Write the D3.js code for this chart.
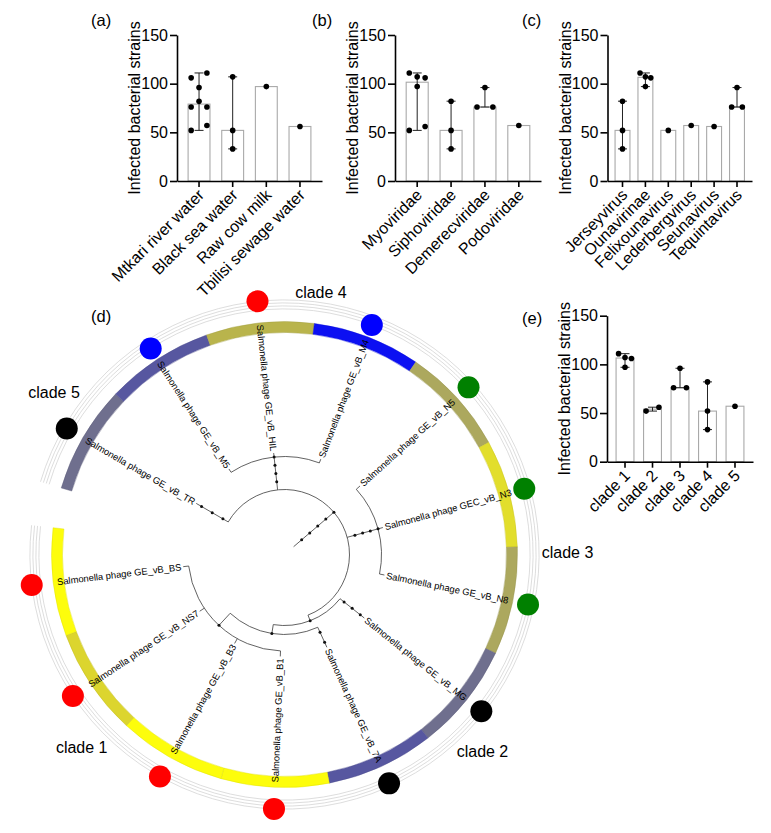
<!DOCTYPE html>
<html><head><meta charset="utf-8">
<script src="https://cdn.jsdelivr.net/npm/d3@7"></script>
<style>
body{margin:0;background:#fff}
svg{display:block}
text{font-family:"Liberation Sans",Arial,Helvetica,sans-serif;fill:#000}
</style>
</head><body>
<svg id="chart" width="771" height="833"></svg>
<script>
// ================= DATA =================
const yTicks = [0, 50, 100, 150];
const yLabel = "Infected bacterial strains";

const sourceCats = ["Mtkari river water", "Black sea water", "Raw cow milk", "Tbilisi sewage water"];
const sourceVals = [[106, 111, 96, 82, 76, 76, 52, 57], [107, 52, 33], [97], [56]];

const familyCats = ["Myoviridae", "Siphoviridae", "Demerecviridae", "Podoviridae"];
const familyVals = [[111, 107, 106, 97, 52, 56], [82, 52, 33], [96, 76, 76], [57]];

const genusCats = ["Jerseyvirus", "Ounavirinae", "Felixounavirus", "Lederbergvirus", "Seunavirus", "Tequintavirus"];
const genusVals = [[82, 52, 33], [111, 107, 106, 97], [52], [57], [56], [96, 76, 76]];

const cladeCats = ["clade 1", "clade 2", "clade 3", "clade 4", "clade 5"];
const cladeVals = [[111, 107, 106, 97], [52, 56], [96, 76, 76], [82, 52, 33], [57]];

const phageNames = [
  "Salmonella phage GE_vB_TR", "Salmonella phage GE_vB_M5", "Salmonella phage GE_vB_HIL",
  "Salmonella phage GE_vB_M4", "Salmonella phage GE_vB_N5", "Salmonella phage GEC_vB_N3",
  "Salmonella phage GE_vB_N8", "Salmonella phage GE_vB_MG", "Salmonella phage GE_vB_7A",
  "Salmonella phage GE_vB_B1", "Salmonella phage GE_vB_B3", "Salmonella phage GE_vB_NS7",
  "Salmonella phage GE_vB_BS"
];
// ring category for every leaf
const phageRing = ["slate", "indigo", "olive", "blue", "khaki", "lemon", "khaki", "slate", "indigo", "yellow", "yellow", "mustard", "yellow"];
// symbol dataset for every leaf
const phageMarker = ["black", "blue", "red", "blue", "green", "green", "green", "black", "black", "red", "red", "red", "red"];
// tree topology with branch lengths (len) and branch node marks (marks)
const treeSpec = {len: 0.53, marks: 5, children: [
  {leaf: 0, marks: 3},
  {len: 0.33, marks: 4, children: [{leaf: 1}, {leaf: 2}, {leaf: 3}]},
  {len: 0.32, marks: 4, children: [{leaf: 4}, {leaf: 5}, {leaf: 6}]},
  {len: 0.06, marks: 1, children: [
    {leaf: 7, marks: 3},
    {len: 0.09, marks: 1, children: [
      {leaf: 8, marks: 2},
      {len: 0.165, marks: 1, children: [{leaf: 9}, {leaf: 10}, {leaf: 11}, {leaf: 12}]}
    ]}
  ]}
]};
const tipDepth = 0.90;
const cladeNames = ["clade 1", "clade 2", "clade 3", "clade 4", "clade 5"];

// ================= STYLE / LAYOUT =================
const svg = d3.select("#chart");
const FONT = 16;

function barPanel(cats, vals, xr, yr, letter, letterPos) {
  const g = svg.append("g");
  const x = d3.scaleBand().domain(cats).range(xr).paddingInner(0.35).paddingOuter(0.33);
  const y = d3.scaleLinear().domain([0, 150]).range(yr);
  const bw = x.bandwidth();
  const r = 2.8;
  const s = bw * 0.36;

  cats.forEach((c, i) => {
    const v = vals[i];
    const med = d3.median(v);
    const cxp = x(c) + bw / 2;
    g.append("rect").attr("x", x(c)).attr("y", y(med)).attr("width", bw).attr("height", y(0) - y(med))
      .attr("fill", "#fff").attr("stroke", "#a9a9a9").attr("stroke-width", 1.1);
    if (v.length > 1) {
      const lo = d3.min(v), hi = d3.max(v), cap = 4.5;
      const eg = g.append("g").attr("stroke", "#222").attr("stroke-width", 1);
      eg.append("line").attr("x1", cxp).attr("x2", cxp).attr("y1", y(lo)).attr("y2", y(hi));
      eg.append("line").attr("x1", cxp - cap).attr("x2", cxp + cap).attr("y1", y(lo)).attr("y2", y(lo));
      eg.append("line").attr("x1", cxp - cap).attr("x2", cxp + cap).attr("y1", y(hi)).attr("y2", y(hi));
    }
    // scatter rows: values within ~5px share a row, spread symmetrically
    const pts = v.map((val, idx) => ({val, idx, py: y(val)})).sort((a, b) => b.val - a.val || a.idx - b.idx);
    const rows = [];
    pts.forEach(p => {
      const row = rows[rows.length - 1];
      if (row && Math.abs(p.py - row[0].py) < 5) row.push(p); else rows.push([p]);
    });
    rows.forEach(row => {
      row.sort((a, b) => a.idx - b.idx);
      const n = row.length;
      row.forEach((p, j) => {
        const off = n === 2 ? (j === 0 ? -s : s) : (j - (n - 1) / 2) * s;
        g.append("circle").attr("cx", cxp + off).attr("cy", p.py).attr("r", r).attr("fill", "#000");
      });
    });
  });

  // axes
  const ya = g.append("g").attr("transform", `translate(${xr[0]},0)`)
    .call(d3.axisLeft(y).tickValues(yTicks).tickSize(7).tickSizeOuter(0).tickPadding(2));
  const xa = g.append("g").attr("transform", `translate(0,${yr[0]})`)
    .call(d3.axisBottom(x).tickSize(6).tickSizeOuter(0).tickPadding(2));
  [ya, xa].forEach(a => {
    a.selectAll("path,line").attr("stroke", "#000").attr("stroke-width", 1.6);
    a.selectAll("text").attr("font-size", FONT).attr("fill", "#000")
      .attr("font-family", '"Liberation Sans",Arial,sans-serif');
  });
  xa.selectAll(".tick text").attr("text-anchor", "end").attr("dy", "0.35em")
    .attr("transform", "translate(2,11) rotate(-45)").attr("y", 0).attr("x", 0);

  g.append("text").attr("transform", `translate(${xr[0] - 37},${(yr[0] + yr[1]) / 2}) rotate(-90)`)
    .attr("text-anchor", "middle").attr("font-size", FONT).text(yLabel);
  g.append("text").attr("x", letterPos[0]).attr("y", letterPos[1]).attr("font-size", 16.5).text(letter);
}

barPanel(sourceCats, sourceVals, [177, 322], [181, 35], "(a)", [91, 26]);
barPanel(familyCats, familyVals, [395, 541], [181, 35], "(b)", [312, 26]);
barPanel(genusCats, genusVals, [607.5, 752], [181, 35], "(c)", [522, 26]);
barPanel(cladeCats, cladeVals, [607, 753], [461.7, 315.7], "(e)", [522, 324]);

// ================= TREE (d) =================
const cx = 284.5, cy = 554.5;
const startAngle = 286.6, span = 350;
const ringColor = d3.scaleOrdinal()
  .domain(["slate", "indigo", "olive", "blue", "khaki", "lemon", "yellow", "mustard"])
  .range(["#6f6f8e", "#5757a0", "#b9b44c", "#0c10f2", "#aca85e", "#e2de2c", "#fdfd0c", "#dcd52e"]);
const markerColor = d3.scaleOrdinal().domain(["blue", "green", "black", "red"])
  .range(["#0000ff", "#008000", "#000000", "#ff0000"]);
const markerTrack = d3.scaleOrdinal().domain(["blue", "green", "black", "red"])
  .range([245.6, 248.6, 251.6, 254.6]);

const root = d3.hierarchy(treeSpec);
d3.cluster().size([span, 1]).separation(() => 1)(root);
root.eachAfter(n => {
  if (n.children) n.x = (n.children[0].x + n.children[n.children.length - 1].x) / 2;
});
root.each(n => {
  n.theta = startAngle + n.x;
  n.dep = n.children ? (n.parent ? n.parent.dep : 0) + (n.data.len || 0) : tipDepth;
});
const rScale = d3.scaleLinear().domain([0, tipDepth]).range([12, 102]);
const rad = d => (d - 90) * Math.PI / 180;
const pol = (theta, r) => [cx + r * Math.cos(rad(theta)), cy + r * Math.sin(rad(theta))];

const tg = svg.append("g");
// grey track lines
const stepA = span / phageNames.length;
[245.6, 248.6, 251.6, 254.6].forEach(tr => {
  const p = d3.path();
  p.arc(cx, cy, tr, rad(startAngle), rad(startAngle + span));
  tg.append("path").attr("d", p.toString()).attr("fill", "none").attr("stroke", "#cfcfcf").attr("stroke-width", 0.7);
});

// ring
const leaves = root.leaves();
const ringArc = d3.arc().innerRadius(222).outerRadius(233);
leaves.forEach(l => {
  const i = l.data.leaf;
  const a0 = (l.theta - stepA / 2) * Math.PI / 180, a1 = (l.theta + stepA / 2) * Math.PI / 180;
  tg.append("path").attr("transform", `translate(${cx},${cy})`)
    .attr("d", ringArc({startAngle: a0, endAngle: a1}))
    .attr("fill", ringColor(phageRing[i])).attr("stroke", d3.color(ringColor(phageRing[i])).darker(0.4)).attr("stroke-width", 0.4);
});

// markers
leaves.forEach(l => {
  const m = phageMarker[l.data.leaf];
  const [px, py] = pol(l.theta, markerTrack(m));
  tg.append("circle").attr("cx", px).attr("cy", py).attr("r", 11).attr("fill", markerColor(m));
});

// branches
const bg = tg.append("g").attr("stroke", "#3a3a3a").attr("stroke-width", 0.8).attr("fill", "none");
const markPts = [];
root.each(n => {
  const r0 = rScale(n.parent ? n.parent.dep : 0);
  const r1 = rScale(n.dep);
  const [x0, y0] = pol(n.theta, r0), [x1, y1] = pol(n.theta, r1);
  bg.append("line").attr("x1", x0).attr("y1", y0).attr("x2", x1).attr("y2", y1);
  const k = n.data.marks || 0;
  for (let j = 1; j <= k; j++) {
    const f = n.children ? j / k : (j - 0.5) / k;
    markPts.push(pol(n.theta, r0 + (r1 - r0) * f));
  }
  if (n.children) {
    const p = d3.path();
    p.arc(cx, cy, r1, rad(n.children[0].theta), rad(n.children[n.children.length - 1].theta));
    bg.append("path").attr("d", p.toString());
  }
});
markPts.forEach(([px, py]) => tg.append("circle").attr("cx", px).attr("cy", py).attr("r", 1.5).attr("fill", "#111"));

// leaf labels
leaves.forEach(l => {
  const t = ((l.theta % 360) + 360) % 360;
  const flip = t > 180;
  tg.append("text")
    .attr("transform", `translate(${cx},${cy}) rotate(${l.theta - 90}) translate(104,0)${flip ? " rotate(180)" : ""}`)
    .attr("text-anchor", flip ? "end" : "start").attr("dy", "0.35em")
    .attr("font-size", 9.4).attr("fill", "#222").text(phageNames[l.data.leaf]);
});

// clade labels (annotation placement, polar)
const cladeLabelAt = {"clade 1": [226.5, 279.6], "clade 2": [134.8, 279], "clade 3": [89.5, 283], "clade 4": [7.9, 265], "clade 5": [305.2, 282]};
cladeNames.forEach(c => {
  const [px, py] = pol(cladeLabelAt[c][0], cladeLabelAt[c][1]);
  tg.append("text").attr("x", px).attr("y", py).attr("dy", "0.35em").attr("text-anchor", "middle")
    .attr("font-size", FONT).text(c);
});
tg.append("text").attr("x", 91).attr("y", 322).attr("font-size", 16.5).text("(d)");
</script>
</body></html>
